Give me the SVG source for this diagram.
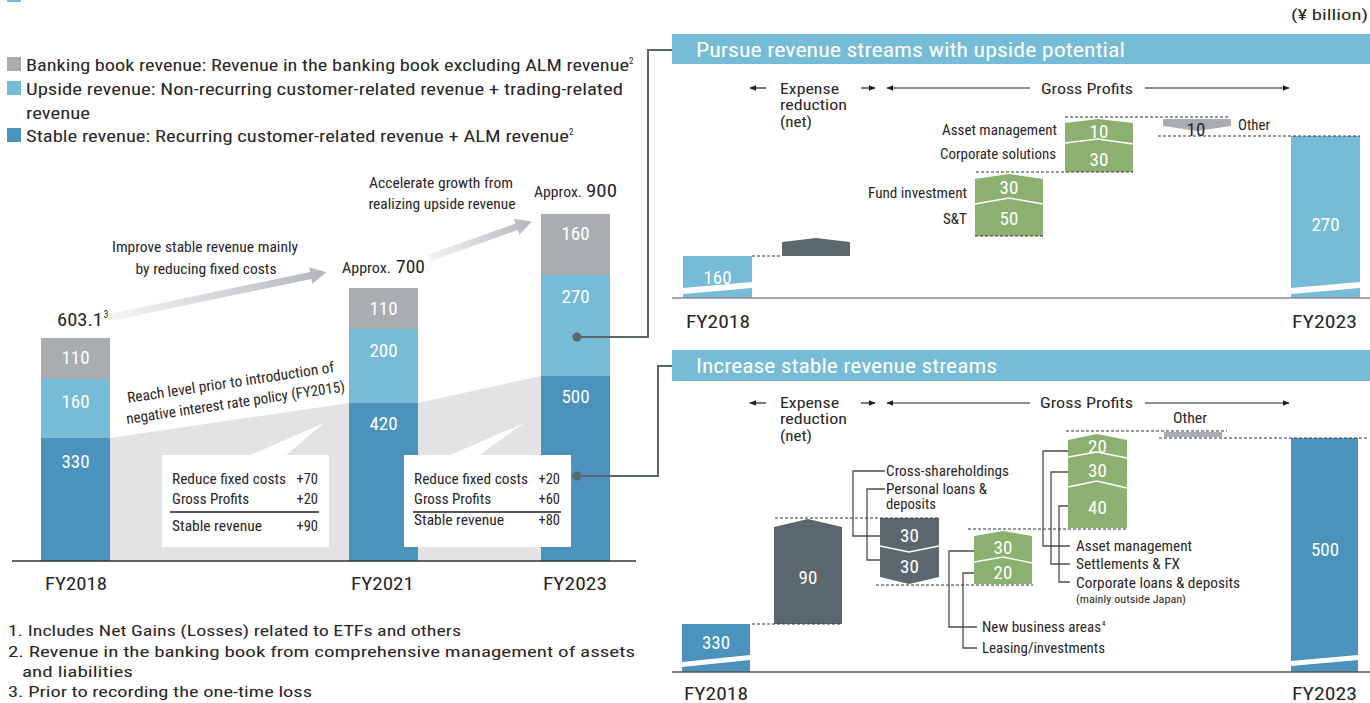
<svg xmlns="http://www.w3.org/2000/svg" width="1370" height="703" viewBox="0 0 1370 703">
<defs>
<style>
.t{font-family:"Liberation Sans Narrow","Roboto Condensed","Liberation Sans",Arial,sans-serif;fill:#2a2627}
.w{font-family:"Liberation Sans Narrow","Roboto Condensed","Liberation Sans",Arial,sans-serif;fill:#fff;text-anchor:middle;font-size:19px}
.e{text-anchor:end}
.gray{fill:#a9adb2}
.lb{fill:#77bcd6}
.db{fill:#4b93bd}
.gr{fill:#8bb070}
.sl{fill:#5b676e}
.dash{stroke:#333;stroke-width:1;stroke-dasharray:3 2;fill:none}
.ld{stroke:#4d4d4d;stroke-width:1.3;fill:none}
.div{stroke:#fff;stroke-width:1.3;fill:none}
.con{stroke:#5b676e;stroke-width:2;fill:none}
.dot{fill:#5b676e}
.ar{stroke:#231f20;stroke-width:1.2;fill:none}
.band{fill:#fff}
</style>
<linearGradient id="ga" x1="0" y1="0" x2="1" y2="0">
<stop offset="0" stop-color="#f4f4f5"/><stop offset="1" stop-color="#b3b7bc"/>
</linearGradient>
<marker id="ah" viewBox="0 0 10 10" refX="9" refY="5" markerWidth="7" markerHeight="7" orient="auto" markerUnits="userSpaceOnUse">
<path d="M0,1 L10,5 L0,9 z" fill="#231f20"/>
</marker>
</defs>
<rect width="1370" height="703" fill="#fff"/>
<rect x="7" y="-12" width="14" height="14" class="lb"/>

<!-- Legend -->
<g id="legend">
<rect x="7" y="57" width="14" height="14" class="gray"/>
<text class="t" x="26" y="70.5" font-size="16.5" textLength="603" lengthAdjust="spacingAndGlyphs">Banking book revenue: Revenue in the banking book excluding ALM revenue</text>
<text class="t" x="629" y="64" font-size="9">2</text>
<rect x="7" y="81" width="14" height="14" class="lb"/>
<text class="t" x="26" y="94.5" font-size="16.5" textLength="597" lengthAdjust="spacingAndGlyphs">Upside revenue: Non-recurring customer-related revenue + trading-related</text>
<text class="t" x="26" y="118.5" font-size="16.5" textLength="64" lengthAdjust="spacingAndGlyphs">revenue</text>
<rect x="7" y="128" width="14" height="14" class="db"/>
<text class="t" x="26" y="141.5" font-size="16.5" textLength="543" lengthAdjust="spacingAndGlyphs">Stable revenue: Recurring customer-related revenue + ALM revenue</text>
<text class="t" x="569" y="135" font-size="9">2</text>
</g>

<!-- Left chart background -->
<g id="left-bg">
<polygon points="110,438 349,403 349,561 110,561" fill="#e2e3e4"/>
<polygon points="418,403 541,376 541,561 418,561" fill="#e2e3e4"/>
</g>

<!-- Growth arrows -->
<g id="growth-arrow-1" transform="translate(112,317) rotate(-11.8)">
<polygon points="0,-3.5 203,-3.5 203,-8.5 219,0 203,8.5 203,3.5 0,3.5" fill="url(#ga)"/>
</g>
<g id="growth-arrow-2" transform="translate(429,258) rotate(-19.6)">
<polygon points="0,-3.5 93,-3.5 93,-8.5 109,0 93,8.5 93,3.5 0,3.5" fill="url(#ga)"/>
</g>
<g id="growth-labels">
<text class="t" x="205" y="252" font-size="14.5" text-anchor="middle" textLength="186" lengthAdjust="spacingAndGlyphs">Improve stable revenue mainly</text>
<text class="t" x="206" y="274" font-size="14.5" text-anchor="middle" textLength="141" lengthAdjust="spacingAndGlyphs">by reducing fixed costs</text>
<text class="t" x="441" y="188" font-size="14.5" text-anchor="middle" textLength="144" lengthAdjust="spacingAndGlyphs">Accelerate growth from</text>
<text class="t" x="442" y="209" font-size="14.5" text-anchor="middle" textLength="147" lengthAdjust="spacingAndGlyphs">realizing upside revenue</text>
</g>

<!-- Left bars -->
<g id="bar-fy2018">
<rect x="41" y="338" width="69" height="41" class="gray"/>
<rect x="41" y="379" width="69" height="59" class="lb"/>
<rect x="41" y="438" width="69" height="123" class="db"/>
<text class="w" x="75.5" y="364">110</text>
<text class="w" x="75.5" y="408">160</text>
<text class="w" x="75.5" y="468">330</text>
<text class="t" x="57" y="326" font-size="19" textLength="46" lengthAdjust="spacingAndGlyphs">603.1</text>
<text class="t" x="103.5" y="318" font-size="10">3</text>
</g>
<g id="bar-fy2021">
<rect x="349" y="288" width="69" height="41" class="gray"/>
<rect x="349" y="329" width="69" height="74" class="lb"/>
<rect x="349" y="403" width="69" height="158" class="db"/>
<text class="w" x="383.5" y="315">110</text>
<text class="w" x="383.5" y="357">200</text>
<text class="w" x="383.5" y="430">420</text>
<text class="t" x="342" y="273" font-size="14.5" textLength="49" lengthAdjust="spacingAndGlyphs">Approx.</text>
<text class="t" x="396" y="273" font-size="19" textLength="29" lengthAdjust="spacingAndGlyphs">700</text>
</g>
<g id="bar-fy2023">
<rect x="541" y="214" width="69" height="61" class="gray"/>
<rect x="541" y="275" width="69" height="101" class="lb"/>
<rect x="541" y="376" width="69" height="185" class="db"/>
<text class="w" x="575.5" y="240">160</text>
<text class="w" x="575.5" y="303">270</text>
<text class="w" x="575.5" y="403">500</text>
<text class="t" x="534" y="197" font-size="14.5" textLength="48" lengthAdjust="spacingAndGlyphs">Approx.</text>
<text class="t" x="586" y="197" font-size="19" textLength="31" lengthAdjust="spacingAndGlyphs">900</text>
</g>

<g id="reach-label">
<text class="t" font-size="15" transform="translate(128,403) rotate(-8.5)" textLength="209" lengthAdjust="spacingAndGlyphs">Reach level prior to introduction of</text>
<text class="t" font-size="15" transform="translate(127,424) rotate(-8.5)" textLength="221" lengthAdjust="spacingAndGlyphs">negative interest rate policy (FY2015)</text>
</g>

<!-- Callout boxes -->
<g id="callout-1">
<polygon points="248,456 324,423 285,456" fill="#fff"/>
<rect x="162" y="455" width="167" height="92" fill="#fff"/>
<text class="t" x="172" y="484" font-size="14.5" textLength="114" lengthAdjust="spacingAndGlyphs">Reduce fixed costs</text>
<text class="t e" x="318" y="484" font-size="14.5">+70</text>
<text class="t" x="172" y="504" font-size="14.5" textLength="77" lengthAdjust="spacingAndGlyphs">Gross Profits</text>
<text class="t e" x="318" y="504" font-size="14.5">+20</text>
<line x1="170" y1="512" x2="319" y2="512" stroke="#231f20" stroke-width="1.3"/>
<text class="t" x="172" y="531" font-size="14.5" textLength="90" lengthAdjust="spacingAndGlyphs">Stable revenue</text>
<text class="t e" x="318" y="531" font-size="14.5">+90</text>
</g>
<g id="callout-2">
<polygon points="448,456 524,423 478,456" fill="#fff"/>
<rect x="404" y="455" width="167" height="92" fill="#fff"/>
<text class="t" x="414" y="484" font-size="14.5" textLength="114" lengthAdjust="spacingAndGlyphs">Reduce fixed costs</text>
<text class="t e" x="560" y="484" font-size="14.5">+20</text>
<text class="t" x="414" y="504" font-size="14.5" textLength="77" lengthAdjust="spacingAndGlyphs">Gross Profits</text>
<text class="t e" x="560" y="504" font-size="14.5">+60</text>
<line x1="413" y1="512" x2="561" y2="512" stroke="#231f20" stroke-width="1.3"/>
<text class="t" x="414" y="525" font-size="14.5" textLength="90" lengthAdjust="spacingAndGlyphs">Stable revenue</text>
<text class="t e" x="560" y="525" font-size="14.5">+80</text>
</g>

<g id="left-axis">
<line x1="12" y1="561" x2="636" y2="561" stroke="#333" stroke-width="1.5"/>
<text class="t" x="45" y="590" font-size="17.5" textLength="62" lengthAdjust="spacingAndGlyphs">FY2018</text>
<text class="t" x="351" y="590" font-size="17.5" textLength="63" lengthAdjust="spacingAndGlyphs">FY2021</text>
<text class="t" x="543" y="590" font-size="17.5" textLength="64" lengthAdjust="spacingAndGlyphs">FY2023</text>
</g>

<g id="footnotes">
<text class="t" x="8" y="636" font-size="15.5" textLength="453" lengthAdjust="spacingAndGlyphs">1. Includes Net Gains (Losses) related to ETFs and others</text>
<text class="t" x="8" y="657" font-size="15.5" textLength="627" lengthAdjust="spacingAndGlyphs">2. Revenue in the banking book from comprehensive management of assets</text>
<text class="t" x="22" y="677" font-size="15.5" textLength="111" lengthAdjust="spacingAndGlyphs">and liabilities</text>
<text class="t" x="8" y="697" font-size="15.5" textLength="304" lengthAdjust="spacingAndGlyphs">3. Prior to recording the one-time loss</text>
</g>

<!-- Connectors -->
<g id="connectors">
<path class="con" d="M577,337 H648 V50 H677"/>
<path class="con" d="M577,476 H658 V366 H677"/>
<circle class="dot" cx="577" cy="337" r="4.5"/>
<circle class="dot" cx="577" cy="476" r="4.5"/>
<circle class="dot" cx="677" cy="50" r="4.5"/>
<circle class="dot" cx="677" cy="366" r="4.5"/>
<path class="ld" d="M885,471 H853 V536 H880"/>
<path class="ld" d="M885,489 H867 V560 H880"/>
<path class="ld" d="M974,551 H949 V627 H977"/>
<path class="ld" d="M974,573 H963 V648 H977"/>
<path class="ld" d="M1068,451 H1043 V546 H1070"/>
<path class="ld" d="M1068,472 H1051 V564 H1070"/>
<path class="ld" d="M1068,506 H1059 V582 H1070"/>
</g>

<text class="t e" x="1368" y="20" font-size="15.5" textLength="77" lengthAdjust="spacingAndGlyphs">(¥ billion)</text>

<!-- Top panel -->
<g id="panel-upside-header">
<rect x="672" y="34" width="698" height="30" class="lb"/>
<text x="696" y="57" font-size="19.5" fill="#fff" font-family="Liberation Sans Narrow, Roboto Condensed, Liberation Sans, Arial, sans-serif" textLength="429" lengthAdjust="spacingAndGlyphs">Pursue revenue streams with upside potential</text>
</g>
<g id="panel-upside-scale">
<path class="ar" d="M766,88 H750" marker-end="url(#ah)"/>
<path class="ar" d="M861,88 H875" marker-end="url(#ah)"/>
<path class="ar" d="M1030,88 H887" marker-end="url(#ah)"/>
<path class="ar" d="M1145,88 H1289" marker-end="url(#ah)"/>
<text class="t" x="780" y="94" font-size="15.5" textLength="59" lengthAdjust="spacingAndGlyphs">Expense</text>
<text class="t" x="780" y="110" font-size="15.5" textLength="67" lengthAdjust="spacingAndGlyphs">reduction</text>
<text class="t" x="780" y="127" font-size="15.5" textLength="32" lengthAdjust="spacingAndGlyphs">(net)</text>
<text class="t" x="1041" y="94" font-size="15.5" textLength="92" lengthAdjust="spacingAndGlyphs">Gross Profits</text>
</g>
<g id="upside-fy2018">
<rect x="683" y="256" width="69" height="42" class="lb"/>
<polygon class="band" points="683,288 752,282 752,288 683,294"/>
<text class="w" x="717.5" y="284">160</text>
</g>
<g id="upside-expense">
<polygon class="sl" points="782,256 782,242 816,238 850,242 850,256"/>
</g>
<g id="upside-st-fund">
<path class="gr" d="M975,236 V179 L1009,174 L1043,179 V236 Z"/>
<path class="div" d="M975,204 L1009,198 L1043,204"/>
<text class="w" x="1009" y="194">30</text>
<text class="w" x="1009" y="225">50</text>
<text class="t e" x="967" y="198" font-size="14.5" textLength="99" lengthAdjust="spacingAndGlyphs">Fund investment</text>
<text class="t e" x="967" y="224" font-size="14.5" textLength="24" lengthAdjust="spacingAndGlyphs">S&amp;T</text>
</g>
<g id="upside-corp-am">
<path class="gr" d="M1065,172 V123 L1098,119 L1133,123 V172 Z"/>
<path class="div" d="M1065,143 L1098,139 L1133,144"/>
<text class="w" x="1099" y="138">10</text>
<text class="w" x="1099" y="166">30</text>
<text class="t e" x="1057" y="135" font-size="14.5" textLength="115" lengthAdjust="spacingAndGlyphs">Asset management</text>
<text class="t e" x="1056" y="159" font-size="14.5" textLength="116" lengthAdjust="spacingAndGlyphs">Corporate solutions</text>
</g>
<g id="upside-other">
<polygon class="gray" points="1163,119 1231,119 1231,126 1197,131 1163,126"/>
<text class="t" x="1196" y="136" font-size="19" text-anchor="middle">10</text>
<text class="t" x="1238" y="130" font-size="14.5" textLength="32" lengthAdjust="spacingAndGlyphs">Other</text>
</g>
<g id="upside-fy2023">
<rect x="1291" y="136" width="69" height="162" class="lb"/>
<polygon class="band" points="1291,288 1360,282 1360,288 1291,294"/>
<text class="w" x="1325.5" y="231">270</text>
</g>
<g id="upside-dashes">
<path class="dash" d="M752,256 H782 M975,236 H1043 M976,172 H1133 M1065,117 H1230 M1158,136 H1360"/>
</g>
<g id="upside-axis">
<line x1="672" y1="298" x2="1370" y2="298" stroke="#8a8a8a" stroke-width="1.5"/>
<text class="t" x="686" y="328" font-size="17.5" textLength="64" lengthAdjust="spacingAndGlyphs">FY2018</text>
<text class="t" x="1292" y="328" font-size="17.5" textLength="65" lengthAdjust="spacingAndGlyphs">FY2023</text>
</g>

<!-- Bottom panel -->
<g id="panel-stable-header">
<rect x="672" y="350" width="698" height="31" class="lb"/>
<text x="696" y="373" font-size="19.5" fill="#fff" font-family="Liberation Sans Narrow, Roboto Condensed, Liberation Sans, Arial, sans-serif" textLength="301" lengthAdjust="spacingAndGlyphs">Increase stable revenue streams</text>
</g>
<g id="panel-stable-scale">
<path class="ar" d="M766,403 H750" marker-end="url(#ah)"/>
<path class="ar" d="M861,403 H875" marker-end="url(#ah)"/>
<path class="ar" d="M1030,403 H887" marker-end="url(#ah)"/>
<path class="ar" d="M1145,403 H1289" marker-end="url(#ah)"/>
<text class="t" x="780" y="408" font-size="15.5" textLength="59" lengthAdjust="spacingAndGlyphs">Expense</text>
<text class="t" x="780" y="424" font-size="15.5" textLength="67" lengthAdjust="spacingAndGlyphs">reduction</text>
<text class="t" x="780" y="441" font-size="15.5" textLength="32" lengthAdjust="spacingAndGlyphs">(net)</text>
<text class="t" x="1040" y="408" font-size="15.5" textLength="93" lengthAdjust="spacingAndGlyphs">Gross Profits</text>
</g>
<g id="stable-fy2018">
<rect x="682" y="624" width="68" height="48" class="db"/>
<polygon class="band" points="682,662 750,655 750,660 682,667"/>
<text class="w" x="716" y="649">330</text>
</g>
<g id="stable-expense">
<path class="sl" d="M774,624 V527 L808,519 L842,527 V624 Z"/>
<text class="w" x="808" y="584">90</text>
</g>
<g id="stable-cross-personal">
<path class="sl" d="M880,518 H939 V577 L909,584 L880,577 Z"/>
<path class="div" d="M880,546 L909,552 L939,546"/>
<text class="w" x="909.5" y="542">30</text>
<text class="w" x="909.5" y="573">30</text>
<text class="t" x="886" y="476" font-size="14.5" textLength="123" lengthAdjust="spacingAndGlyphs">Cross-shareholdings</text>
<text class="t" x="886" y="494" font-size="14.5" textLength="101" lengthAdjust="spacingAndGlyphs">Personal loans &amp;</text>
<text class="t" x="886" y="509" font-size="14.5" textLength="50" lengthAdjust="spacingAndGlyphs">deposits</text>
</g>
<g id="stable-new-leasing">
<path class="gr" d="M974,584 V536 L1003,531 L1032,536 V584 Z"/>
<path class="div" d="M974,562 L1003,557 L1032,563"/>
<text class="w" x="1003" y="554">30</text>
<text class="w" x="1003" y="579">20</text>
<text class="t" x="982" y="632" font-size="14.5" textLength="119" lengthAdjust="spacingAndGlyphs">New business areas</text>
<text class="t" x="1101.5" y="626" font-size="8">4</text>
<text class="t" x="982" y="653" font-size="14.5" textLength="123" lengthAdjust="spacingAndGlyphs">Leasing/investments</text>
</g>
<g id="stable-am-fx-corp">
<path class="gr" d="M1068,528 V440 L1097,434 L1127,440 V528 Z"/>
<path class="div" d="M1068,457 L1097,452 L1127,458"/>
<path class="div" d="M1068,487 L1097,481 L1127,488"/>
<text class="w" x="1097.5" y="453">20</text>
<text class="w" x="1097.5" y="477">30</text>
<text class="w" x="1097.5" y="514">40</text>
<text class="t" x="1076" y="551" font-size="14.5" textLength="116" lengthAdjust="spacingAndGlyphs">Asset management</text>
<text class="t" x="1076" y="569" font-size="14.5" textLength="104" lengthAdjust="spacingAndGlyphs">Settlements &amp; FX</text>
<text class="t" x="1076" y="588" font-size="14.5" textLength="164" lengthAdjust="spacingAndGlyphs">Corporate loans &amp; deposits</text>
<text class="t" x="1076" y="603" font-size="10.5" textLength="110" lengthAdjust="spacingAndGlyphs">(mainly outside Japan)</text>
</g>
<g id="stable-other">
<rect x="1164" y="432" width="58" height="5" class="gray"/>
<text class="t" x="1173" y="423" font-size="14.5" textLength="34" lengthAdjust="spacingAndGlyphs">Other</text>
</g>
<g id="stable-fy2023">
<rect x="1291" y="438" width="67" height="234" class="db"/>
<polygon class="band" points="1291,661 1358,655 1358,660 1291,666"/>
<text class="w" x="1325" y="556">500</text>
</g>
<g id="stable-dashes">
<path class="dash" d="M752,624 H842 M775,518 H939 M876,585 H1033 M968,529 H1127 M1066,431 H1227 M1159,438 H1369"/>
</g>
<g id="stable-axis">
<line x1="672" y1="672" x2="1370" y2="672" stroke="#555" stroke-width="1.5"/>
<text class="t" x="684" y="700" font-size="17.5" textLength="64" lengthAdjust="spacingAndGlyphs">FY2018</text>
<text class="t" x="1292" y="700" font-size="17.5" textLength="65" lengthAdjust="spacingAndGlyphs">FY2023</text>
</g>
</svg>
